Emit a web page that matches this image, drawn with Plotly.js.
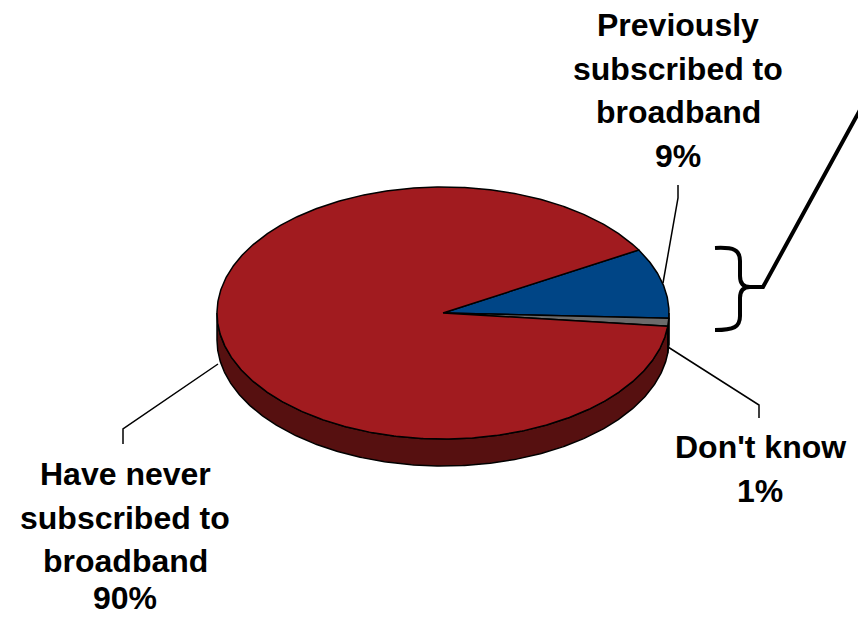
<!DOCTYPE html>
<html>
<head>
<meta charset="utf-8">
<script src="https://cdn.plot.ly/plotly-3.0.1.min.js"></script>
<style>html,body{margin:0;padding:0;background:#fff;}#chart{width:858px;height:619px;}</style>
</head>
<body>
<div id="chart"></div>
<script>
// ---- Data ----
const labels = ["Previously subscribed to broadband", "Don't know", "Have never subscribed to broadband"];
const labelLines = [["Previously", "subscribed to", "broadband"], ["Don't know"], ["Have never", "subscribed to", "broadband"]];
const values = [9, 1, 90];
const colors = ["#004586", "#6B6B6B", "#A11B1F"];
const sideColors = ["#00284E", "#3C3C3C", "#561010"];
// label anchor: [x centre, y of first line centre]
const labelPos = [[678, 25], [760, 447], [125, 474]];
const lineGap = 43.7;

// ---- Geometry of the tilted pie ----
const cx = 443, cy = 313, rx = 226, ry = 126, depth = 27, startDeg = 30;
const total = values.reduce((a, b) => a + b, 0);

function pt(deg, dy) {
  const r = deg * Math.PI / 180;
  return [cx + rx * Math.cos(r), cy - ry * Math.sin(r) + (dy || 0)];
}
function arc(a1, a2, dy) {
  const n = Math.max(2, Math.ceil(Math.abs(a2 - a1) / 0.5));
  const out = [];
  for (let i = 0; i <= n; i++) out.push(pt(a1 + (a2 - a1) * i / n, dy));
  return out;
}

const traces = [];
const sliceRanges = [];
let acc = startDeg;
values.forEach((v) => {
  const span = v / total * 360;
  sliceRanges.push([acc, acc - span]); // clockwise
  acc -= span;
});

// side walls (front half only)
sliceRanges.forEach(([hi, lo], i) => {
  [0, -360].forEach(k => {
    const a = Math.min(hi, 0 + k), b = Math.max(lo, -180 + k);
    if (a > b) {
      const pts = arc(a, b, 0).concat(arc(b, a, depth));
      pts.push(pts[0]);
      traces.push({
        type: 'scatter', mode: 'lines', fill: 'toself',
        x: pts.map(p => p[0]), y: pts.map(p => p[1]),
        fillcolor: sideColors[i], line: {color: '#000', width: 1.5},
        hoverinfo: 'skip', showlegend: false
      });
    }
  });
});

// top faces
sliceRanges.forEach(([hi, lo], i) => {
  const pts = [[cx, cy]].concat(arc(hi, lo, 0));
  pts.push([cx, cy]);
  traces.push({
    type: 'scatter', mode: 'lines', fill: 'toself',
    x: pts.map(p => p[0]), y: pts.map(p => p[1]),
    fillcolor: colors[i], line: {color: '#000', width: 1.5},
    name: labels[i],
    text: Math.round(values[i] / total * 100) + '%',
    hoverinfo: 'name+text', showlegend: false
  });
});

const annFont = {family: 'Liberation Sans, Arial, sans-serif', size: 32, color: '#000', weight: 'bold'};
const annotations = [];
labelLines.forEach((lines, i) => {
  const all = lines.concat([Math.round(values[i] / total * 100) + '%']);
  all.forEach((t, j) => {
    let y = labelPos[i][1] + j * lineGap;
    if (y > 598) y = 598;
    annotations.push({
      x: labelPos[i][0], y: y, xref: 'x', yref: 'y',
      text: t, showarrow: false, xanchor: 'center', yanchor: 'middle',
      font: annFont, borderpad: 0
    });
  });
});

const lineStyle = {color: '#000', width: 1.5};
const shapes = [
  {type: 'path', xref: 'x', yref: 'y', path: 'M 678 185 L 678 198 L 663 283', line: lineStyle},
  {type: 'path', xref: 'x', yref: 'y', path: 'M 668 347 L 759 405 L 759 418', line: lineStyle},
  {type: 'path', xref: 'x', yref: 'y', path: 'M 218 364 L 123 429 L 123 444', line: lineStyle},
  {type: 'path', xref: 'x', yref: 'y',
   path: 'M 715 248 C 734 247 740 250 740 261 L 740 276 C 740 284 744 287 750 287 C 744 287 740 290 740 298 L 740 316 C 740 327 734 330 715 330',
   line: {color: '#000', width: 4}},
  {type: 'path', xref: 'x', yref: 'y', path: 'M 748 287 L 763 287 L 860 110', line: {color: '#000', width: 4}}
];

const layout = {
  width: 858, height: 619,
  margin: {l: 0, r: 0, t: 0, b: 0},
  paper_bgcolor: '#fff', plot_bgcolor: '#fff',
  xaxis: {range: [0, 858], visible: false, fixedrange: true},
  yaxis: {range: [619, 0], visible: false, fixedrange: true},
  annotations: annotations,
  shapes: shapes,
  showlegend: false
};

Plotly.newPlot('chart', traces, layout, {displayModeBar: false, staticPlot: true});
</script>
</body>
</html>
